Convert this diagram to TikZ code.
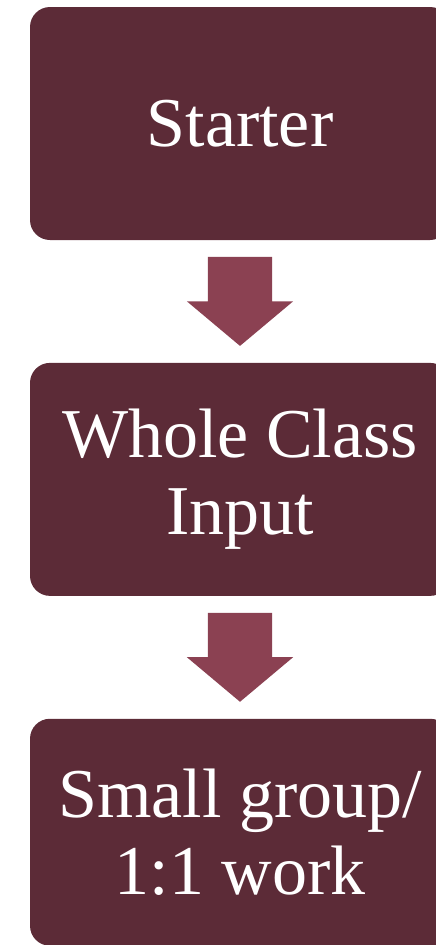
\documentclass[tikz,border=0pt]{standalone}
\usepackage{fontspec}
\setmainfont{Liberation Serif}
\usetikzlibrary{positioning,shapes.arrows}
\definecolor{StageMaroon}{HTML}{5C2B37}
\definecolor{ArrowRose}{HTML}{8B4152}
\tikzset{
  stagebox/.style={rounded corners=20pt, fill=StageMaroon, text=white, align=center, minimum width=420pt, minimum height=233pt, inner sep=0pt, font=\fontsize{70}{77}\selectfont},
  downarrow/.style={single arrow, fill=ArrowRose, shape border rotate=270, minimum height=89pt, single arrow head extend=21pt, single arrow tip angle=100, inner xsep=32pt, inner ysep=0pt}
}
\begin{document}
\begin{tikzpicture}[x=1pt, y=-1pt, node distance=16.5pt]
    \clip (0,0) rectangle (436,945);
    \node[stagebox] (starter) at (240,123.5) {Starter};
    \node[downarrow, below=of starter] (arrowA) {};
    \node[stagebox, below=of arrowA] (input) {Whole Class\\Input};
    \node[downarrow, below=of input] (arrowB) {};
    \node[stagebox, minimum height=227pt, below=of arrowB] (groupwork) {Small group/\\1:1 work};
\end{tikzpicture}
\end{document}
